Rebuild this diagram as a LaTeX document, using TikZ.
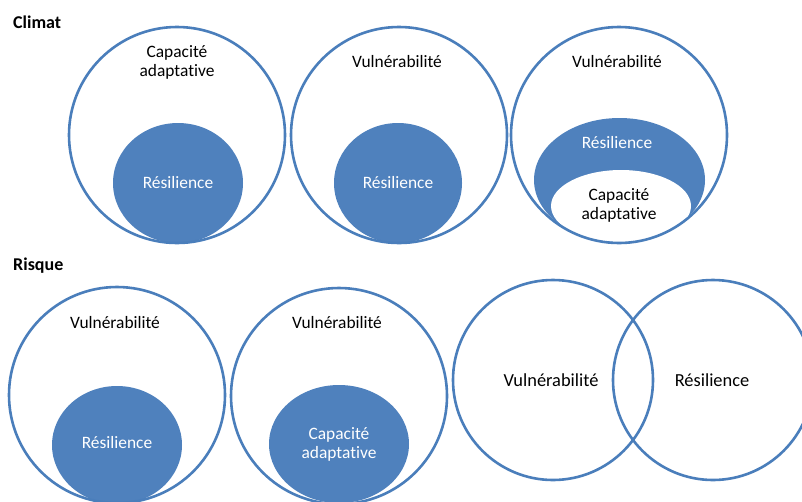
\documentclass[tikz,border=0pt]{standalone}
\usepackage{fontspec}
\setmainfont{Carlito}[Ligatures={NoCommon,NoContextual}]
\definecolor{accfill}{HTML}{4F81BD}
\definecolor{accline}{HTML}{4A7EBB}
\begin{document}
\begin{tikzpicture}[x=1pt,y=-1pt,
  outer/.style={draw=accline, line width=2.6pt},
  blob/.style={fill=accfill},
  lbl/.style={font=\fontsize{17.4}{19}\selectfont, text=black, align=center, inner sep=0pt},
  wlbl/.style={lbl, text=white},
  big/.style={font=\fontsize{18.4}{21}\selectfont, text=black, inner sep=0pt},
  title/.style={font=\bfseries\fontsize{18}{21}\selectfont, anchor=west, inner sep=0pt}]
\useasboundingbox (0,0) rectangle (802,501);
\clip (0,0) rectangle (802,501);
\fill[white] (0,0) rectangle (802,501);

% ---- Climat ----
\node[title] (tclimat) at (13,22) {Climat};

\fill[blob] (178,183) ellipse [x radius=65pt, y radius=60pt];
\draw[outer] (177,135) circle [radius=108pt];
\node[lbl] (t1cap) at (177,62.5) {Capacité\\adaptative};
\node[wlbl] (t1res) at (178,183) {Résilience};

\fill[blob] (398,183) ellipse [x radius=64pt, y radius=60pt];
\draw[outer] (399,135) circle [radius=108pt];
\node[lbl] (t2vul) at (397,62) {Vulnérabilité};
\node[wlbl] (t2res) at (398,183) {Résilience};

\begin{scope}
  \clip (619,135) circle [radius=108pt];
  \fill[blob] (619.5,180) ellipse [x radius=85.5pt, y radius=62pt];
  \fill[white] (621,206) ellipse [x radius=70pt, y radius=36pt];
\end{scope}
\draw[outer] (619,135) circle [radius=108pt];
\node[lbl] (t3vul) at (617,62) {Vulnérabilité};
\node[wlbl] (t3res) at (617,143) {Résilience};
\node[lbl] (t3cap) at (619,205) {Capacité\\adaptative};

% ---- Risque ----
\node[title] (trisque) at (13,266) {Risque};

\fill[blob] (117,445) ellipse [x radius=65pt, y radius=59pt];
\draw[outer] (117,395) circle [radius=108pt];
\node[lbl] (b1vul) at (115,323) {Vulnérabilité};
\node[wlbl] (b1res) at (117,443) {Résilience};

\fill[blob] (339,444) ellipse [x radius=70pt, y radius=59pt];
\draw[outer] (339,396) circle [radius=108pt];
\node[lbl] (b2vul) at (337,323) {Vulnérabilité};
\node[wlbl] (b2cap) at (339,444) {Capacité\\adaptative};

\draw[outer] (553,380) circle [radius=100pt];
\draw[outer] (713,380) circle [radius=100pt];
\node[big] (vvul) at (551,380) {Vulnérabilité};
\node[big] (vres) at (712,380) {Résilience};
\end{tikzpicture}
\end{document}
